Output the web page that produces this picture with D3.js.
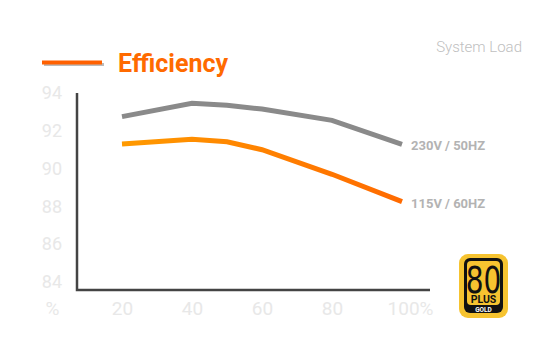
<!DOCTYPE html>
<html>
<head>
<meta charset="utf-8">
<script src="https://cdn.jsdelivr.net/npm/d3@7"></script>
<style>
  body { margin: 0; background: #fff; }
  text { font-family: Roboto, "Open Sans", sans-serif; }
</style>
</head>
<body>
<div id="chart"></div>
<script>
const loads = [20, 40, 50, 60, 80, 100];
const eff230 = [92.75, 93.46, 93.35, 93.15, 92.55, 91.28];
const eff115 = [91.3, 91.55, 91.42, 91.0, 89.7, 88.25];
const yTicks = [84, 86, 88, 90, 92, 94];
const xTicks = [0, 20, 40, 60, 80, 100];
const xTickLabels = ['%', '20', '40', '60', '80', '100%'];
const seriesLabels = ['230V / 50HZ', '115V / 60HZ'];

const width = 550, height = 360;

const svg = d3.select('#chart')
  .append('svg')
  .attr('width', width)
  .attr('height', height);

// scales
const x = d3.scaleLinear().domain([0, 100]).range([52, 402]);
const y = d3.scaleLinear().domain([84, 94]).range([282, 93]);

const defs = svg.append('defs');
const grad = defs.append('linearGradient')
  .attr('id', 'orangeGrad')
  .attr('gradientUnits', 'userSpaceOnUse')
  .attr('x1', x(20)).attr('x2', x(100))
  .attr('y1', 0).attr('y2', 0);
grad.append('stop').attr('offset', '0%').attr('stop-color', '#ff9a00');
grad.append('stop').attr('offset', '100%').attr('stop-color', '#ff6a00');

// axis lines
svg.append('path')
  .attr('d', 'M' + 77 + ',' + y(94) + 'V290H430')
  .attr('fill', 'none')
  .attr('stroke', '#444')
  .attr('stroke-width', 2.5);

// y tick labels
const yAxis = svg.append('g')
  .attr('transform', 'translate(70,0)')
  .call(d3.axisLeft(y).tickValues(yTicks).tickSize(0).tickPadding(8));
yAxis.select('.domain').remove();
yAxis.selectAll('text')
  .attr('fill', '#e8e8e8')
  .style('font-size', '18px')
  .style('font-family', 'Roboto, sans-serif');

// x tick labels
const xAxis = svg.append('g')
  .attr('transform', 'translate(0,297)')
  .call(d3.axisBottom(x).tickValues(xTicks).tickSize(0).tickPadding(4)
    .tickFormat((d, i) => xTickLabels[i]));
xAxis.select('.domain').remove();
xAxis.selectAll('text')
  .attr('fill', '#e8e8e8')
  .style('font-size', '19px')
  .style('font-family', 'Roboto, sans-serif')
  .attr('dx', (d, i) => i === xTicks.length - 1 ? 8 : 0);

// lines
const line = d3.line()
  .x((d, i) => x(loads[i]))
  .y(d => y(d));

svg.append('path')
  .datum(eff230)
  .attr('d', line)
  .attr('fill', 'none')
  .attr('stroke', '#8a8a8a')
  .attr('stroke-width', 5);

svg.append('path')
  .datum(eff115)
  .attr('d', line)
  .attr('fill', 'none')
  .attr('stroke', 'url(#orangeGrad)')
  .attr('stroke-width', 5);

// end labels
[eff230, eff115].forEach((s, i) => {
  svg.append('text')
    .attr('x', x(100) + 9)
    .attr('y', y(s[s.length - 1]) + 6)
    .attr('fill', '#b3b3b3')
    .style('font-size', '13px')
    .style('font-weight', 'bold')
    .text(seriesLabels[i]);
});

// legend / title
svg.append('line')
  .attr('x1', 44).attr('x2', 104)
  .attr('y1', 64.5).attr('y2', 64.5)
  .attr('stroke', '#bbb')
  .attr('stroke-width', 3);
svg.append('line')
  .attr('x1', 42).attr('x2', 102)
  .attr('y1', 62.5).attr('y2', 62.5)
  .attr('stroke', '#ff6000')
  .attr('stroke-width', 4);

svg.append('text')
  .attr('x', 118)
  .attr('y', 72)
  .attr('fill', '#ff6a00')
  .style('font-size', '25px')
  .style('font-weight', 'bold')
  .text('Efficiency');

svg.append('text')
  .attr('x', 522)
  .attr('y', 52)
  .attr('text-anchor', 'end')
  .attr('fill', '#c0c0c0')
  .style('font-size', '15px')
  .style('font-weight', 300)
  .text('System Load');

// 80 PLUS Gold badge
const badge = svg.append('g').attr('transform', 'translate(459,254)');
badge.append('rect')
  .attr('width', 49).attr('height', 64).attr('rx', 9)
  .attr('fill', '#f6c330');
badge.append('rect')
  .attr('x', 5).attr('y', 4).attr('width', 39).attr('height', 55).attr('rx', 6)
  .attr('fill', '#111');
badge.append('rect')
  .attr('x', 8).attr('y', 7).attr('width', 33).attr('height', 44).attr('rx', 4)
  .attr('fill', '#f6c330');
badge.append('text')
  .attr('transform', 'translate(24.5,39) scale(0.82,1)')
  .attr('text-anchor', 'middle')
  .attr('fill', '#111')
  .style('font-size', '38px')
  .style('font-family', '"Liberation Sans Narrow", "DejaVu Sans Condensed", sans-serif')
  .text('80');
badge.append('text')
  .attr('x', 24.5).attr('y', 49)
  .attr('text-anchor', 'middle')
  .attr('fill', '#111')
  .style('font-size', '10.5px')
  .style('font-weight', 'bold')
  .text('PLUS');
badge.append('text')
  .attr('x', 24.5).attr('y', 57.5)
  .attr('text-anchor', 'middle')
  .attr('fill', '#fff')
  .style('font-size', '6.5px')
  .style('font-weight', 'bold')
  .text('GOLD');
</script>
</body>
</html>
